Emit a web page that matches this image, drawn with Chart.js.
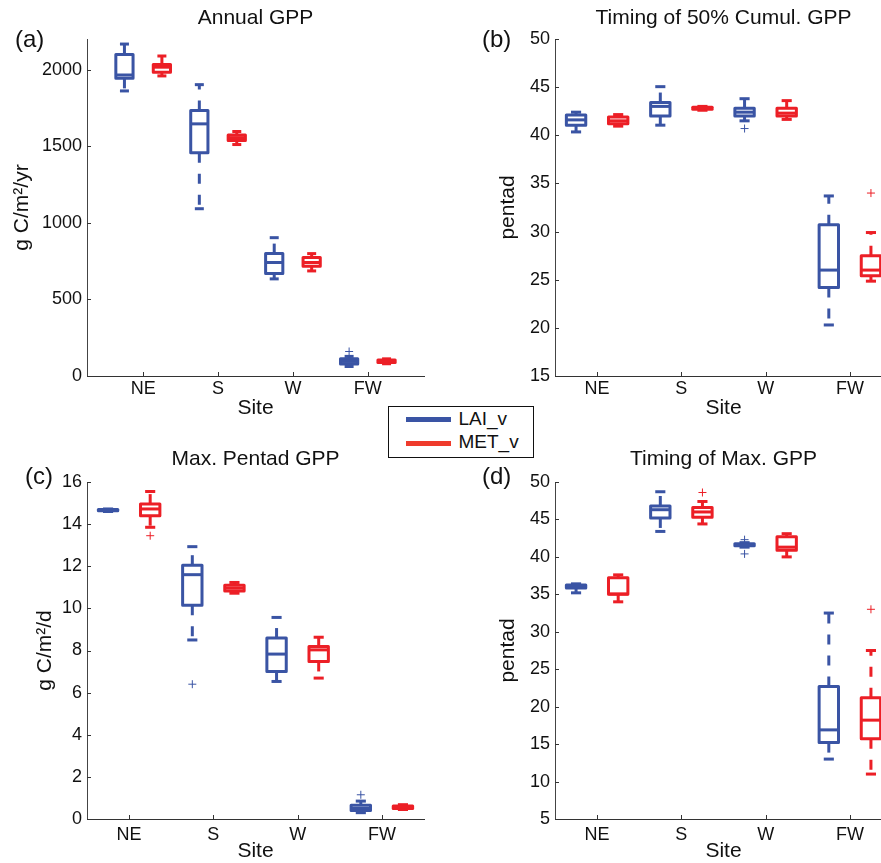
<!DOCTYPE html>
<html><head><meta charset="utf-8">
<script src="https://cdn.jsdelivr.net/npm/chart.js@4.4.1/dist/chart.umd.min.js"></script>
<style>
html,body{margin:0;padding:0;background:#fff;overflow:hidden;}
#wrap{position:relative;width:881px;height:863px;overflow:hidden;background:#fff;}
#wrap canvas{position:absolute;}
#legend{position:absolute;left:388px;top:406px;width:144px;height:50px;border:1.5px solid #111;background:#fff;
  font-family:'Liberation Sans',Arial,Helvetica,sans-serif;font-size:19px;color:#111;z-index:5;}
#legend .sw{position:absolute;left:16.5px;width:45px;height:5px;}
#legend .tx{position:absolute;left:69.5px;line-height:19px;white-space:nowrap;}
</style></head>
<body>
<div id="wrap">
  <canvas id="ca" width="440" height="430" style="left:0;top:0"></canvas>
  <canvas id="cb" width="480" height="430" style="left:440px;top:0"></canvas>
  <canvas id="cc" width="440" height="433" style="left:0;top:430px"></canvas>
  <canvas id="cd" width="480" height="433" style="left:440px;top:430px"></canvas>
  <div id="legend">
    <div class="sw" style="top:9.5px;background:#3A54A4"></div><div class="tx" style="top:1.5px">LAI_v</div>
    <div class="sw" style="top:33.5px;background:#EF3B2C"></div><div class="tx" style="top:24.5px">MET_v</div>
  </div>
</div>
<script>
// ---------------- data ----------------
const sites = ['NE', 'S', 'W', 'FW'];
const sitePos = [1, 2, 3, 4];
const seriesNames = ['LAI_v', 'MET_v'];
// each entry: [lower whisker, Q1, median, Q3, upper whisker]
const annualLAI = [[1861, 1943, 1965, 2098, 2167], [1092, 1457, 1646, 1733, 1902], [634, 669, 741, 799, 903], [62, 78, 95, 112, 128]];
const annualMET = [[1959, 1983, 2016, 2033, 2089], [1511, 1537, 1556, 1574, 1596], [686, 717, 741, 773, 799], [80, 88, 95, 104, 112]];
const annualLAIOut = [[], [], [], [160]];
const annualMETOut = [[], [], [], []];
const annualTicks = [0, 500, 1000, 1500, 2000];

const cumLAI = [[40.35, 41.05, 41.6, 42.1, 42.4], [41.05, 42.0, 43.0, 43.4, 45.05], [41.5, 42.0, 42.4, 42.8, 43.8], [20.3, 24.2, 26.0, 30.7, 33.7]];
const cumMET = [[40.95, 41.2, 41.5, 41.9, 42.15], [42.6, 42.7, 42.8, 42.9, 43.0], [41.65, 42.0, 42.3, 42.8, 43.6], [24.85, 25.4, 26.0, 27.5, 29.9]];
const cumLAIOut = [[], [], [40.7], []];
const cumMETOut = [[], [], [], [34.0]];
const cumTicks = [15, 20, 25, 30, 35, 40, 45, 50];

const maxLAI = [[14.6, 14.63, 14.66, 14.69, 14.72], [8.5, 10.15, 11.6, 12.05, 12.93], [6.53, 7.0, 7.83, 8.59, 9.57], [0.3, 0.4, 0.5, 0.65, 0.85]];
const maxMET = [[13.85, 14.4, 14.72, 14.95, 15.55], [10.72, 10.82, 10.96, 11.1, 11.23], [6.69, 7.48, 8.03, 8.19, 8.63], [0.45, 0.5, 0.55, 0.62, 0.68]];
const maxLAIOut = [[], [6.4], [], [1.15]];
const maxMETOut = [[13.45], [], [], []];
const maxTicks = [0, 2, 4, 6, 8, 10, 12, 14, 16];

const tmaxLAI = [[35.2, 35.85, 36.0, 36.25, 36.4], [43.4, 45.2, 46.3, 46.8, 48.7], [41.3, 41.5, 41.6, 41.75, 41.9], [13.0, 15.2, 16.9, 22.7, 32.5]];
const tmaxMET = [[34.0, 35.0, 35.05, 37.2, 37.6], [44.4, 45.3, 46.0, 46.6, 47.4], [40.0, 40.9, 41.3, 42.7, 43.1], [11.0, 15.7, 18.2, 21.2, 27.5]];
const tmaxLAIOut = [[], [], [42.3, 40.4], []];
const tmaxMETOut = [[], [48.6], [], [33.0]];
const tmaxTicks = [5, 10, 15, 20, 25, 30, 35, 40, 45, 50];

// ---------------- style ----------------
const FONT = "'Liberation Sans', Arial, Helvetica, sans-serif";
const BLUE = '#3A54A4', RED = '#EC1F26';
const OFFSET = 0.25, BOX_HALF = 0.115, CAP_HALF = 0.06;
Chart.defaults.font.family = FONT;

const boxPlugin = {
  id: 'boxes',
  afterDatasetsDraw(chart, args, opts) {
    const {ctx} = chart; const x = chart.scales.x, y = chart.scales.y;
    ctx.save();
    const line = (x1, y1, x2, y2) => { ctx.beginPath(); ctx.moveTo(x1, y1); ctx.lineTo(x2, y2); ctx.stroke(); };
    opts.series.forEach(s => {
      s.data.forEach((v, i) => {
        const c = sitePos[i] + s.offset;
        const xc = x.getPixelForValue(c), xl = x.getPixelForValue(c - BOX_HALF), xr = x.getPixelForValue(c + BOX_HALF);
        const cl = x.getPixelForValue(c - CAP_HALF), cr = x.getPixelForValue(c + CAP_HALF);
        const [lo, q1, md, q3, hi] = v.map(val => y.getPixelForValue(val));
        ctx.strokeStyle = s.color; ctx.lineWidth = 3; ctx.lineCap = 'butt'; ctx.lineJoin = 'round';
        ctx.setLineDash([10, 11]);
        line(xc, q3, xc, hi); line(xc, q1, xc, lo);
        ctx.setLineDash([]);
        line(cl, hi, cr, hi); line(cl, lo, cr, lo);
        ctx.beginPath(); ctx.rect(xl, q3, xr - xl, q1 - q3); ctx.stroke();
        line(xl, md, xr, md);
      });
    });
    ctx.restore();
  }
};

const decoPlugin = {
  id: 'deco',
  afterDraw(chart, args, opts) {
    const {ctx, chartArea} = chart; const x = chart.scales.x, y = chart.scales.y;
    ctx.save();
    ctx.strokeStyle = '#333'; ctx.lineWidth = 1;
    y.ticks.forEach(t => { const py = Math.round(y.getPixelForValue(t.value)) + 0.5;
      ctx.beginPath(); ctx.moveTo(chartArea.left, py); ctx.lineTo(chartArea.left + 4, py); ctx.stroke(); });
    x.ticks.forEach(t => { const px = Math.round(x.getPixelForValue(t.value)) + 0.5;
      ctx.beginPath(); ctx.moveTo(px, chartArea.bottom); ctx.lineTo(px, chartArea.bottom - 4); ctx.stroke(); });
    ctx.fillStyle = '#111'; ctx.font = '24px ' + FONT; ctx.textBaseline = 'alphabetic'; ctx.textAlign = 'left';
    ctx.fillText(opts.label, opts.lx, opts.ly);
    ctx.restore();
  }
};

function outPoints(outs, off) {
  return outs.flatMap((arr, i) => arr.map(v => ({x: sitePos[i] + off, y: v})));
}

function makePanel(p) {
  const cfg = {
    type: 'scatter',
    data: {
      datasets: [
        {label: seriesNames[0] + ' outliers', data: outPoints(p.laiOut, -OFFSET), pointStyle: 'cross', pointRadius: 4, borderWidth: 1, borderColor: BLUE, backgroundColor: BLUE},
        {label: seriesNames[1] + ' outliers', data: outPoints(p.metOut, OFFSET), pointStyle: 'cross', pointRadius: 4, borderWidth: 1, borderColor: RED, backgroundColor: RED}
      ]
    },
    options: {
      responsive: false, animation: false, events: [], devicePixelRatio: 1,
      layout: {padding: {left: 0, top: 0, right: p.w - p.area.r, bottom: 0}},
      plugins: {
        legend: {display: false}, tooltip: {enabled: false},
        title: {display: true, text: p.title, fullSize: false, color: '#111',
          font: {family: FONT, size: 21, weight: 'normal', lineHeight: 1.2},
          padding: {top: p.titleMid - 12.6, bottom: p.area.t - (p.titleMid - 12.6) - 25.2}},
        boxes: {series: [{data: p.lai, offset: -OFFSET, color: BLUE}, {data: p.met, offset: OFFSET, color: RED}]},
        deco: {label: p.label, lx: p.lx, ly: p.ly}
      },
      scales: {
        x: {
          type: 'linear', min: p.xmin, max: p.xmax,
          grid: {display: false, drawTicks: false},
          border: {display: true, color: '#333', width: 1},
          ticks: {font: {family: FONT, size: 18}, color: '#111', padding: p.xTickPad, autoSkip: false, maxRotation: 0,
            callback: v => sites[sitePos.indexOf(v)] || ''},
          afterBuildTicks: s => { s.ticks = sitePos.map(v => ({value: v})); },
          afterFit: s => { s.height = p.h - p.area.b; },
          title: {display: true, text: 'Site', color: '#111', font: {family: FONT, size: 21, lineHeight: 1}, padding: {top: 0, bottom: p.xTitlePad}}
        },
        y: {
          type: 'linear', min: p.ymin, max: p.ymax,
          grid: {display: false, drawTicks: false},
          border: {display: true, color: '#444', width: 1},
          ticks: {font: {family: FONT, size: 18}, color: '#111', padding: 5, autoSkip: false,
            callback: v => String(v)},
          afterBuildTicks: s => { s.ticks = p.ticks.map(v => ({value: v})); },
          afterFit: s => { s.width = p.area.l; },
          title: {display: true, text: p.ytitle, color: '#111', font: {family: FONT, size: 21, lineHeight: 1.2}, padding: {top: p.yTitlePad, bottom: 0}}
        }
      }
    },
    plugins: [boxPlugin, decoPlugin]
  };
  return new Chart(document.getElementById(p.id), cfg);
}

makePanel({id: 'ca', w: 440, h: 430, area: {l: 87, t: 39, r: 424, b: 376}, xmin: 0.25, xmax: 4.75, ymin: 0, ymax: 2200,
  ticks: annualTicks, lai: annualLAI, met: annualMET, laiOut: annualLAIOut, metOut: annualMETOut,
  title: 'Annual GPP', ytitle: 'g C/m²/yr', label: '(a)', lx: 15, ly: 47, titleMid: 18, xTickPad: 2, xTitlePad: 11.5, yTitlePad: 9.5});
makePanel({id: 'cb', w: 480, h: 430, area: {l: 115, t: 39, r: 452, b: 376}, xmin: 0.5, xmax: 4.5, ymin: 15, ymax: 50,
  ticks: cumTicks, lai: cumLAI, met: cumMET, laiOut: cumLAIOut, metOut: cumMETOut,
  title: 'Timing of 50% Cumul. GPP', ytitle: 'pentad', label: '(b)', lx: 42, ly: 47, titleMid: 18, xTickPad: 2, xTitlePad: 11.5, yTitlePad: 56.1});
makePanel({id: 'cc', w: 440, h: 433, area: {l: 87, t: 52, r: 424, b: 389}, xmin: 0.5, xmax: 4.5, ymin: 0, ymax: 16,
  ticks: maxTicks, lai: maxLAI, met: maxMET, laiOut: maxLAIOut, metOut: maxMETOut,
  title: 'Max. Pentad GPP', ytitle: 'g C/m²/d', label: '(c)', lx: 25, ly: 53.5, titleMid: 29, xTickPad: 5.2, xTitlePad: 0.8, yTitlePad: 32.4});
makePanel({id: 'cd', w: 480, h: 433, area: {l: 115, t: 52, r: 452, b: 389}, xmin: 0.5, xmax: 4.5, ymin: 5, ymax: 50,
  ticks: tmaxTicks, lai: tmaxLAI, met: tmaxMET, laiOut: tmaxLAIOut, metOut: tmaxMETOut,
  title: 'Timing of Max. GPP', ytitle: 'pentad', label: '(d)', lx: 42, ly: 54, titleMid: 29, xTickPad: 5.2, xTitlePad: 0.8, yTitlePad: 56.1});
</script>
</body></html>
